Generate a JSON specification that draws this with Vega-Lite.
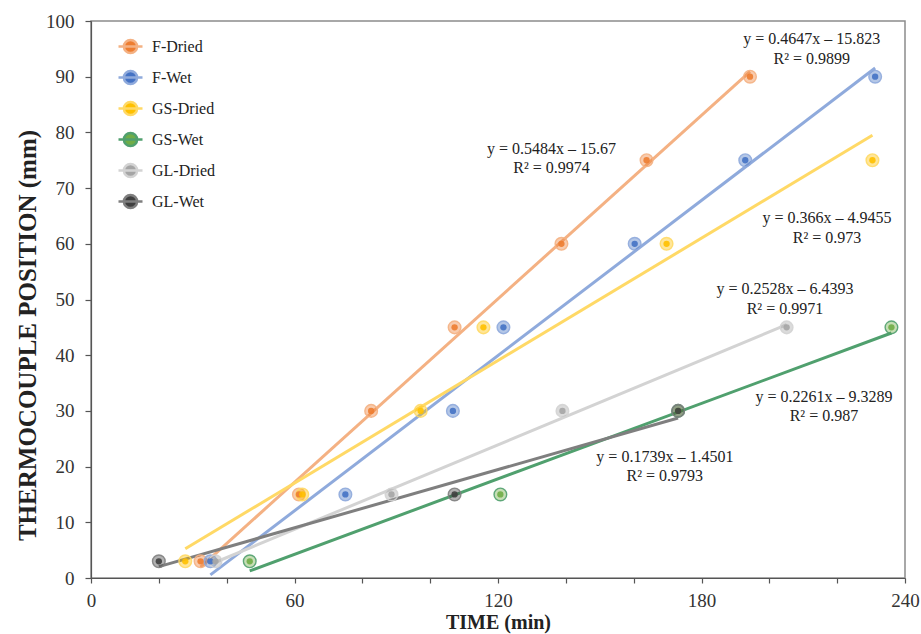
{
  "$schema": "https://vega.github.io/schema/vega-lite/v6.json",
  "width": 814,
  "height": 557,
  "autosize": {"type": "none"},
  "padding": {"left": 91, "top": 21, "right": 16, "bottom": 56},
  "background": "white",
  "config": {
    "font": "Liberation Serif",
    "view": {"stroke": "#8c8c8c", "strokeWidth": 1.5}
  },
  "datasets": {
    "pts": [
      {"series": "F-Dried", "time": 32.3, "pos": 3},
      {"series": "F-Dried", "time": 61.3, "pos": 15},
      {"series": "F-Dried", "time": 82.6, "pos": 30},
      {"series": "F-Dried", "time": 107.2, "pos": 45},
      {"series": "F-Dried", "time": 138.7, "pos": 60},
      {"series": "F-Dried", "time": 163.8, "pos": 75},
      {"series": "F-Dried", "time": 194.3, "pos": 90},
      {"series": "F-Wet", "time": 35.2, "pos": 3},
      {"series": "F-Wet", "time": 75.0, "pos": 15},
      {"series": "F-Wet", "time": 106.7, "pos": 30},
      {"series": "F-Wet", "time": 121.6, "pos": 45},
      {"series": "F-Wet", "time": 160.3, "pos": 60},
      {"series": "F-Wet", "time": 192.9, "pos": 75},
      {"series": "F-Wet", "time": 231.2, "pos": 90},
      {"series": "GS-Dried", "time": 27.8, "pos": 3},
      {"series": "GS-Dried", "time": 62.3, "pos": 15},
      {"series": "GS-Dried", "time": 97.2, "pos": 30},
      {"series": "GS-Dried", "time": 115.7, "pos": 45},
      {"series": "GS-Dried", "time": 169.7, "pos": 60},
      {"series": "GS-Dried", "time": 230.4, "pos": 75},
      {"series": "GS-Wet", "time": 46.8, "pos": 3},
      {"series": "GS-Wet", "time": 120.7, "pos": 15},
      {"series": "GS-Wet", "time": 173.1, "pos": 30},
      {"series": "GS-Wet", "time": 236.0, "pos": 45},
      {"series": "GL-Dried", "time": 36.7, "pos": 3},
      {"series": "GL-Dried", "time": 88.6, "pos": 15},
      {"series": "GL-Dried", "time": 139.0, "pos": 30},
      {"series": "GL-Dried", "time": 205.1, "pos": 45},
      {"series": "GL-Wet", "time": 20.0, "pos": 3},
      {"series": "GL-Wet", "time": 107.2, "pos": 15},
      {"series": "GL-Wet", "time": 173.1, "pos": 30}
    ],
    "eq": [
      {"label": "y = 0.4647x – 15.823", "tx": 212.5, "ty": 96.7},
      {"label": "R² = 0.9899", "tx": 212.5, "ty": 93.2},
      {"label": "y = 0.5484x – 15.67", "tx": 135.8, "ty": 77.1},
      {"label": "R² = 0.9974", "tx": 135.8, "ty": 73.6},
      {"label": "y = 0.366x – 4.9455", "tx": 217.0, "ty": 64.6},
      {"label": "R² = 0.973", "tx": 217.0, "ty": 61.1},
      {"label": "y = 0.2528x – 6.4393", "tx": 204.6, "ty": 51.8},
      {"label": "R² = 0.9971", "tx": 204.6, "ty": 48.3},
      {"label": "y = 0.2261x – 9.3289", "tx": 216.1, "ty": 32.5},
      {"label": "R² = 0.987", "tx": 216.1, "ty": 29.0},
      {"label": "y = 0.1739x – 1.4501", "tx": 169.2, "ty": 21.8},
      {"label": "R² = 0.9793", "tx": 169.2, "ty": 18.3}
    ]
  },
  "layer": [
    {
      "data": {"name": "pts"},
      "transform": [{"regression": "pos", "on": "time", "groupby": ["series"]}],
      "mark": {"type": "line", "strokeWidth": 3, "strokeCap": "butt"},
      "encoding": {
        "x": {
          "field": "time", "type": "quantitative",
          "scale": {"domain": [0, 240], "nice": false},
          "axis": {
            "title": "TIME (min)",
            "values": [0, 10, 20, 30, 40, 50, 60, 70, 80, 90, 100, 110, 120, 130, 140, 150, 160, 170, 180, 190, 200, 210, 220, 230, 240],
            "labelExpr": "datum.value % 60 === 0 ? datum.label : ''",
            "labelOverlap": false,
            "labelFlush": false,
            "grid": false,
            "tickSize": 5,
            "labelPadding": 8,
            "labelFontSize": 19,
            "labelColor": "#333333",
            "titleFontSize": 20,
            "titleFontWeight": "bold",
            "titleColor": "#222222",
            "titlePadding": 2,
            "domainColor": "#555555",
            "domainWidth": 1.2,
            "tickColor": "#555555",
            "tickWidth": 1.2,
            "encode": {"ticks": {"update": {"y": {"value": -6}, "y2": {"signal": "datum.value % 60 === 0 ? 5 : 0"}}}}
          }
        },
        "y": {
          "field": "pos", "type": "quantitative",
          "scale": {"domain": [0, 100], "nice": false},
          "axis": {
            "title": "THERMOCOUPLE POSITION (mm)",
            "values": [0, 10, 20, 30, 40, 50, 60, 70, 80, 90, 100],
            "grid": false,
            "tickSize": 6,
            "labelPadding": 11,
            "labelFontSize": 19,
            "labelColor": "#333333",
            "titleFontSize": 25,
            "titleFontWeight": "bold",
            "titleColor": "#222222",
            "titlePadding": 5,
            "titleY": 314,
            "domainColor": "#555555",
            "domainWidth": 1.2,
            "tickColor": "#555555",
            "tickWidth": 1.2
          }
        },
        "stroke": {
          "field": "series", "type": "nominal",
          "scale": {
            "domain": ["F-Dried", "F-Wet", "GS-Dried", "GS-Wet", "GL-Dried", "GL-Wet"],
            "range": ["#F4B183", "#8FAADC", "#FFD966", "#50A06E", "#D3D3D3", "#7F7F7F"]
          }
        }
      }
    },
    {
      "data": {"name": "pts"},
      "mark": {"type": "point", "shape": "circle", "filled": false, "size": 160, "strokeWidth": 1.4, "fillOpacity": 0.4, "strokeOpacity": 0.9},
      "encoding": {
        "x": {"field": "time", "type": "quantitative"},
        "y": {"field": "pos", "type": "quantitative"},
        "stroke": {"field": "series", "type": "nominal"},
        "fill": {
          "field": "series", "type": "nominal",
          "scale": {
            "domain": ["F-Dried", "F-Wet", "GS-Dried", "GS-Wet", "GL-Dried", "GL-Wet"],
            "range": ["#ED7D31", "#4472C4", "#FFC000", "#70AD47", "#A5A5A5", "#3F3F3F"]
          },
          "legend": {
            "title": null,
            "orient": "none",
            "legendX": 26,
            "legendY": 12,
            "padding": 0,
            "symbolType": "M-1,0L1,0M0.55,0A0.55,0.55,0,1,1,-0.55,0A0.55,0.55,0,1,1,0.55,0Z",
            "symbolSize": 576,
            "symbolStrokeWidth": 2.5,
            "symbolOpacity": 1,
            "labelFontSize": 16,
            "labelColor": "#222222",
            "labelOffset": 8,
            "rowPadding": 5,
            "labelLimit": 200
          }
        }
      }
    },
    {
      "data": {"name": "pts"},
      "mark": {"type": "point", "shape": "circle", "filled": true, "size": 40, "opacity": 0.9},
      "encoding": {
        "x": {"field": "time", "type": "quantitative"},
        "y": {"field": "pos", "type": "quantitative"},
        "fill": {"field": "series", "type": "nominal"}
      }
    },
    {
      "data": {"name": "eq"},
      "mark": {"type": "text", "fontSize": 16, "color": "#222222", "align": "center", "baseline": "middle"},
      "encoding": {
        "x": {"field": "tx", "type": "quantitative"},
        "y": {"field": "ty", "type": "quantitative"},
        "text": {"field": "label"}
      }
    }
  ]
}
